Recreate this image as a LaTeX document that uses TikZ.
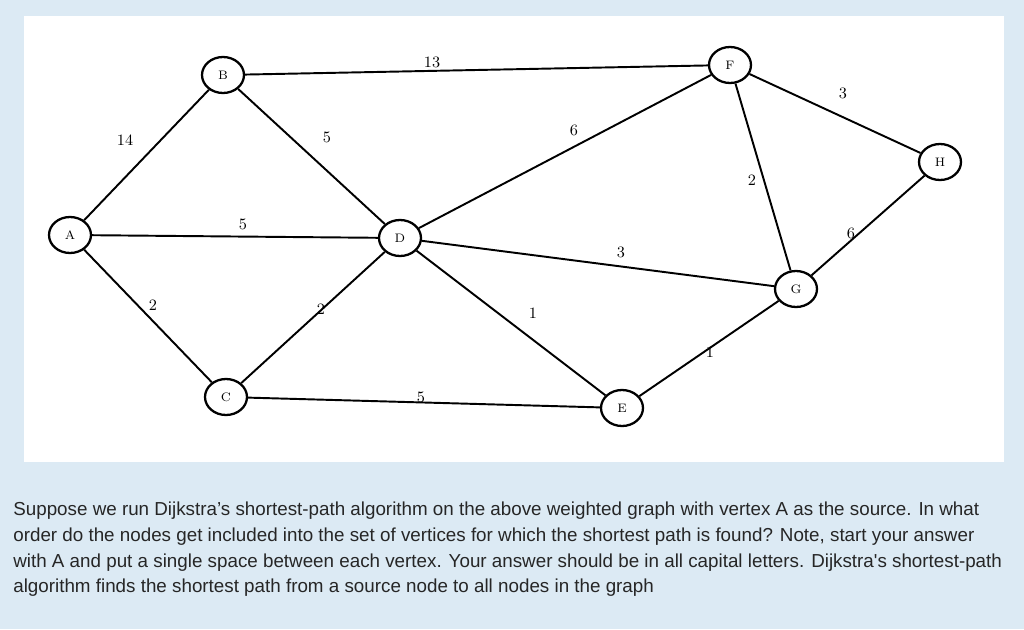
\documentclass[tikz,border=0pt]{standalone}
\usepackage{fontspec}
\newfontfamily\helv{Liberation Sans}
\usetikzlibrary{shapes.geometric}
\definecolor{bgblue}{HTML}{DCEAF4}
\begin{document}
\begin{tikzpicture}[x=0.02cm,y=-0.02cm,
  vert/.style={ellipse,draw,line width=1.3pt,fill=white,minimum width=0.84cm,minimum height=0.72cm,inner sep=0pt,font=\scriptsize},
  edge/.style={line width=1.1pt},
  wt/.style={font=\small}]
\useasboundingbox (0,0) rectangle (1024,629);
\fill[bgblue] (0,0) rectangle (1024,629);
\fill[white] (24,16) rectangle (1004,462);
\node[vert] (A) at (70,235) {A};
\node[vert] (B) at (223,75) {B};
\node[vert] (F) at (730,65) {F};
\node[vert] (H) at (940,162) {H};
\node[vert] (D) at (400,238) {D};
\node[vert] (G) at (796,289) {G};
\node[vert] (C) at (226,397) {C};
\node[vert] (E) at (622,408) {E};
\draw[edge] (A)--(B); \draw[edge] (A)--(D); \draw[edge] (A)--(C);
\draw[edge] (B)--(F); \draw[edge] (B)--(D);
\draw[edge] (D)--(F); \draw[edge] (D)--(G); \draw[edge] (D)--(E); \draw[edge] (D)--(C);
\draw[edge] (C)--(E); \draw[edge] (E)--(G); \draw[edge] (F)--(G); \draw[edge] (F)--(H); \draw[edge] (G)--(H);
\node[wt] at (432,62) {13};
\node[wt] at (125,140) {14};
\node[wt] at (327,137) {5};
\node[wt] at (574,130) {6};
\node[wt] at (843,93) {3};
\node[wt] at (752,180) {2};
\node[wt] at (851,233) {6};
\node[wt] at (243,224) {5};
\node[wt] at (621,252) {3};
\node[wt] at (153,305) {2};
\node[wt] at (321,309) {2};
\node[wt] at (533,313) {1};
\node[wt] at (710,352) {1};
\node[wt] at (421,397) {5};
\node[anchor=north west,align=left,font=\helv\fontsize{10.7}{14.6}\selectfont,text=black!85,inner sep=0pt] (T) at (13,502) {Suppose we run Dijkstra’s shortest-path algorithm on the above weighted graph with vertex A as the source. In what\\order do the nodes get included into the set of vertices for which the shortest path is found? Note, start your answer\\with A and put a single space between each vertex. Your answer should be in all capital letters. Dijkstra's shortest-path\\algorithm finds the shortest path from a source node to all nodes in the graph};
\end{tikzpicture}
\end{document}
